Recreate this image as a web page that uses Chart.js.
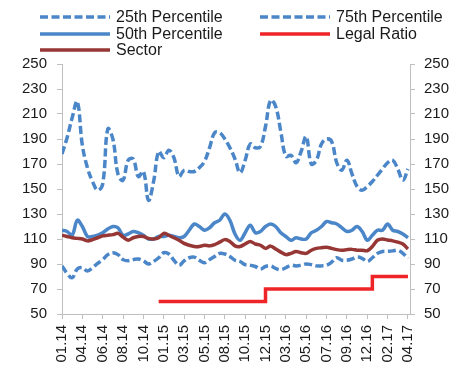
<!DOCTYPE html>
<html>
<head>
<meta charset="utf-8">
<script src="https://cdn.jsdelivr.net/npm/chart.js@4/dist/chart.umd.min.js"></script>
<style>
  html, body { margin: 0; padding: 0; background: #fff; }
  #wrap { position: relative; width: 465px; height: 367px; }
  #c { position: absolute; left: 0; top: 0; }
  .lg { position: absolute; height: 16px; display: flex; align-items: center;
        font: 16px "Liberation Sans", Arial, sans-serif; color: #1a1a1a; white-space: nowrap; }
  .lg svg { margin-right: 6px; }
</style>
</head>
<body>
<div id="wrap">
  <canvas id="c" width="465" height="367"></canvas>
</div>
<script>
// Axis labels shown every 10 weeks along the time axis
const tickLabels = ['01.14','04.14','06.14','08.14','10.14','01.15','03.15','05.15','08.15',
                    '10.15','12.15','03.16','05.16','07.16','09.16','12.16','02.17','04.17'];
const WEEKS_PER_LABEL = 10;
const WEEKS_PER_READING = 2.5;

// Readings every 2.5 weeks, Jan 2014 - Apr 2017
const pct25 = [88.5,82.5,79,86,87,84.5,87,90.5,93.5,97.5,99,97.5,93.5,92.6,93.5,94,92.5,90,92,95,
               99,98,93,89,92.5,95,95.5,93,91,93.5,96,98.5,98,96,93,92,89.5,89,88,86,
               88,88.5,86.5,85.5,87,89,88.5,89,90,89.5,88.5,88.5,89,91.5,95,93,93,94,95.5,94.5,
               92,95,98.5,100,100.2,100.5,101,98.5,94.5];
const pct75 = [178,191,207,220,185,167,156,149,154,198,190,162,157,173,174,160,164,141,156,180,
               175,181,175,160,165,164,164,167,172,183,195,195,190,183,174,163,173,186,183,184,
               200,221,216,196,176,177,171,180,192,170,173,186,190,188,171,165,173,162,152,149,
               152,156,161,166,171,173,166,157,166];
const pct50 = [117,116,113,125,120,112,112,113,115,118,120,119,113,114,116,115,113,110,110,112,
               112,113,112,111,112,117,122,120,117,119,123,125,130,125,114,109,115,121,115,116,
               120,122,120,115,112,109,111,110,110,115,117,120,124,123,122,119,116,117,120,116,
               109,113,117,117,122,117,116,114,111];
const sector = [113,112,111,110.5,110,108.5,109.5,111,112.5,113,113.5,114.5,111.5,109,111,112,112,110.5,110,111,
                114.5,113,111,109,106.5,105,104,104,105,104.5,105.5,107.5,109.5,108,104.5,104,106,108,106,105,
                102.5,104.3,102,99.5,97.5,98.5,100,99,98.5,101,102.5,103,103.4,102.5,101.5,101,101.5,101.7,101,101,
                100.6,104,109,110,109.2,108.5,107.5,106,102];
const legalRatio = [null,null,null,null,null,null,null,null,null,null,null,null,null,null,null,null,null,null,null,60,
                    60,60,60,60,60,60,60,60,60,60,60,60,60,60,60,60,60,60,60,60,
                    70,70,70,70,70,70,70,70,70,70,70,70,70,70,70,70,70,70,70,70,
                    70,80,80,80,80,80,80,80,80];

const weeks = pct50.map((_, i) => i * WEEKS_PER_READING);

const BLUE = '#4A86C8';
const RED = '#EE2429';
const DARK_RED = '#963735';
const AXIS = '#BFBFBF';
const DASH = [8, 3.5];
const FONT = '"Liberation Sans", Arial, sans-serif';

const datasets = [
  { label: '25th Percentile', data: pct25, borderColor: BLUE, borderDash: DASH, tension: 0.4, order: 5 },
  { label: '75th Percentile', data: pct75, borderColor: BLUE, borderDash: DASH, tension: 0.4, order: 4 },
  { label: '50th Percentile', data: pct50, borderColor: BLUE, tension: 0.35, order: 3 },
  { label: 'Legal Ratio', data: legalRatio, borderColor: RED, stepped: 'before', order: 1 },
  { label: 'Sector', data: sector, borderColor: DARK_RED, tension: 0.3, order: 2 }
].map(d => Object.assign({ borderWidth: 3.5, pointRadius: 0, fill: false, borderCapStyle: 'butt',
                           spanGaps: false }, d));

const yAxis = (position, width, pad) => ({
  type: 'linear', position, min: 50, max: 250, display: true,
  border: { color: AXIS, width: 1 },
  grid: { drawOnChartArea: false, drawTicks: true, tickLength: 5, tickColor: AXIS },
  ticks: { stepSize: 20, padding: pad, color: '#1a1a1a', font: { size: 15, family: FONT } },
  afterFit: s => { s.width = width; }
});

Chart.defaults.font.family = FONT;

new Chart(document.getElementById('c'), {
  type: 'line',
  data: { labels: weeks, datasets },
  options: {
    responsive: false,
    animation: false,
    layout: { padding: { top: 64, left: 0, right: 0, bottom: 0 } },
    plugins: { legend: { display: false }, tooltip: { enabled: false } },
    scales: {
      x: {
        type: 'linear', min: 0, max: 171,
        border: { color: AXIS, width: 1 },
        grid: { drawOnChartArea: false, drawTicks: true, tickLength: 5, tickColor: AXIS },
        ticks: {
          stepSize: WEEKS_PER_LABEL, includeBounds: false, autoSkip: false,
          minRotation: 90, maxRotation: 90, padding: 6,
          color: '#1a1a1a', font: { size: 15, family: FONT },
          callback: v => tickLabels[Math.round(v / WEEKS_PER_LABEL)]
        },
        afterFit: s => { s.height = 53; }
      },
      y: yAxis('left', 62, 10),
      y2: yAxis('right', 55, 9)
    }
  }
});

// Legend laid out in two columns above the plot
const legendSlots = [
  { idx: 0, left: 40, top: 9 },
  { idx: 1, left: 260, top: 9 },
  { idx: 2, left: 40, top: 25.5 },
  { idx: 3, left: 260, top: 25.5 },
  { idx: 4, left: 40, top: 41.5 }
];
const wrap = document.getElementById('wrap');
legendSlots.forEach(slot => {
  const ds = datasets[slot.idx];
  const item = document.createElement('div');
  item.className = 'lg';
  item.style.left = slot.left + 'px';
  item.style.top = slot.top + 'px';
  const dash = ds.borderDash ? `stroke-dasharray="${ds.borderDash.join(' ')}"` : '';
  item.innerHTML = `<svg width="70" height="8"><line x1="0" y1="4" x2="70" y2="4" stroke="${ds.borderColor}"
    stroke-width="3.5" ${dash}/></svg><span>${ds.label}</span>`;
  wrap.appendChild(item);
});
</script>
</body>
</html>
